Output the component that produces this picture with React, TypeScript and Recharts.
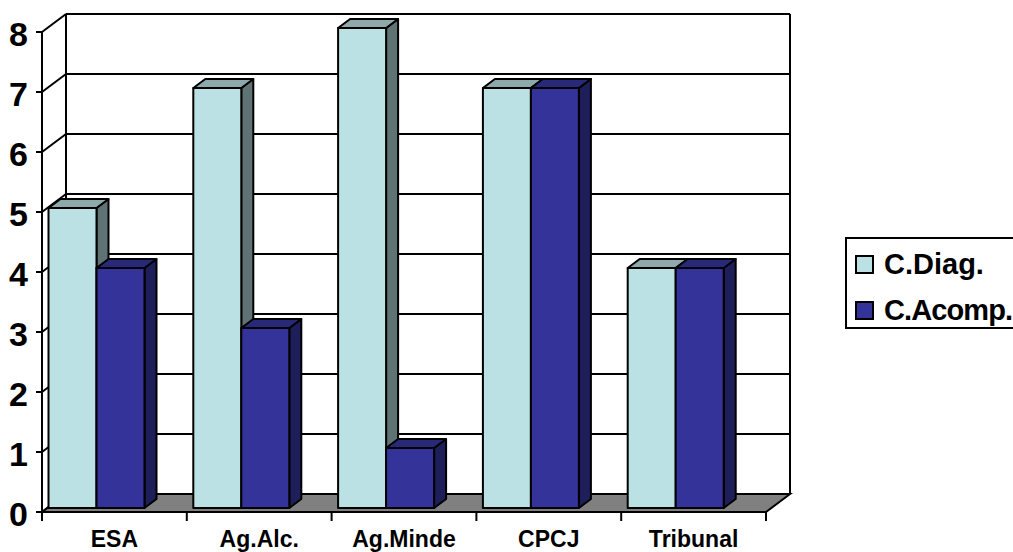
import { Bar, BarChart, CartesianGrid, Legend, XAxis, YAxis, usePlotArea } from 'recharts';

const categories = ['ESA', 'Ag.Alc.', 'Ag.Minde', 'CPCJ', 'Tribunal'];
const cDiag = [5, 7, 8, 7, 4];
const cAcomp = [4, 3, 1, 7, 4];
const yTicks = [0, 1, 2, 3, 4, 5, 6, 7, 8];

const data = categories.map((name, i) => ({ name, 'C.Diag.': cDiag[i], 'C.Acomp.': cAcomp[i] }));

const FONT = '"Liberation Sans", Arial, sans-serif';
const LINE = '#000';

// depth of the chart box
const WALL_DX = 24;
const WALL_DY = 18;
// depth of one bar, and where the bars sit inside the box
const BAR_DX = 12;
const BAR_DY = 9;
const BAR_SHIFT_X = -17.5;
const BAR_SHIFT_Y = -4;

const Wall = () => {
  const plot = usePlotArea();
  if (!plot) return null;
  const left = plot.x;
  const right = plot.x + plot.width;
  const top = plot.y;
  const bottom = plot.y + plot.height;
  return (
    <g>
      <polygon
        points={`${left},${bottom} ${left + WALL_DX},${bottom - WALL_DY} ${right + WALL_DX},${bottom - WALL_DY} ${right},${bottom}`}
        fill="#808080"
        stroke={LINE}
        strokeWidth={2}
      />
      <line x1={left + WALL_DX} x2={left + WALL_DX} y1={top - WALL_DY} y2={bottom - WALL_DY} stroke={LINE} strokeWidth={2} />
      <line x1={right + WALL_DX} x2={right + WALL_DX} y1={top - WALL_DY} y2={bottom - WALL_DY} stroke={LINE} strokeWidth={2} />
    </g>
  );
};

const GridLine = (props: any) => {
  const { x1, x2, y1 } = props;
  return (
    <g key={props.key}>
      <line x1={x1} y1={y1} x2={x1 + WALL_DX} y2={y1 - WALL_DY} stroke={LINE} strokeWidth={2} />
      <line x1={x1 + WALL_DX} y1={y1 - WALL_DY} x2={x2 + WALL_DX} y2={y1 - WALL_DY} stroke={LINE} strokeWidth={2} />
    </g>
  );
};

const box3d = (front: string, side: string, top: string) => (props: any) => {
  const x = props.x + BAR_SHIFT_X;
  const y = props.y + BAR_SHIFT_Y;
  const { width, height } = props;
  return (
    <g stroke={LINE} strokeWidth={2} strokeLinejoin="round">
      <polygon
        points={`${x + width},${y} ${x + width + BAR_DX},${y - BAR_DY} ${x + width + BAR_DX},${y + height - BAR_DY} ${x + width},${y + height}`}
        fill={side}
      />
      <polygon
        points={`${x},${y} ${x + BAR_DX},${y - BAR_DY} ${x + width + BAR_DX},${y - BAR_DY} ${x + width},${y}`}
        fill={top}
      />
      <rect x={x} y={y} width={width} height={height} fill={front} />
    </g>
  );
};

const CategoryTick = (props: any) => {
  const { x, y, payload, width, visibleTicksCount, index } = props;
  const band = width / visibleTicksCount;
  return (
    <g>
      <line x1={x - band / 2} x2={x - band / 2} y1={y - 8} y2={y + 1} stroke={LINE} strokeWidth={2} />
      {index === visibleTicksCount - 1 && (
        <line x1={x + band / 2} x2={x + band / 2} y1={y - 8} y2={y + 1} stroke={LINE} strokeWidth={2} />
      )}
      <text x={x} y={y + 27} textAnchor="middle" fontFamily={FONT} fontWeight="bold" fontSize={23} fill="#000">
        {payload.value}
      </text>
    </g>
  );
};

const YTick = (props: any) => {
  const { x, y, payload } = props;
  return (
    <text x={x} y={y + 14} textAnchor="end" fontFamily={FONT} fontWeight="bold" fontSize={34} fill="#000">
      {payload.value}
    </text>
  );
};

const legendItems = [
  { label: 'C.Diag.', color: '#BCE1E4', spacing: 0 },
  { label: 'C.Acomp.', color: '#333399', spacing: -0.9 },
];

const LegendBox = () => (
  <div
    style={{
      width: 180,
      height: 92,
      border: '2px solid #000',
      boxSizing: 'border-box',
      background: '#fff',
      fontFamily: FONT,
      fontWeight: 'bold',
      fontSize: 29,
      color: '#000',
      lineHeight: '46px',
      paddingTop: 2,
      whiteSpace: 'nowrap',
    }}
  >
    {legendItems.map((item) => (
      <div key={item.label} style={{ display: 'flex', alignItems: 'center', height: 46, letterSpacing: item.spacing }}>
        <span
          style={{
            display: 'inline-block',
            width: 19,
            height: 19,
            margin: '0 10px 0 8px',
            border: '2px solid #000',
            boxSizing: 'border-box',
            background: item.color,
          }}
        />
        {item.label}
      </div>
    ))}
  </div>
);

export default function App() {
  return (
    <div style={{ position: 'fixed', left: 0, top: 0, width: 1013, height: 552, overflow: 'hidden', background: '#fff' }}>
      <BarChart
        width={1013}
        height={552}
        data={data}
        margin={{ top: 32, right: 247, bottom: 0, left: 0 }}
        barCategoryGap={24.4}
        barGap={0}
      >
        <Wall />
        <CartesianGrid vertical={false} horizontal={GridLine} />
        <XAxis
          dataKey="name"
          height={40}
          tick={CategoryTick}
          tickLine={false}
          tickSize={0}
          tickMargin={8}
          interval={0}
          axisLine={{ stroke: LINE, strokeWidth: 2 }}
        />
        <YAxis
          width={42}
          domain={[0, 8]}
          ticks={yTicks}
          interval={0}
          tickSize={6}
          tickMargin={8}
          tickLine={{ stroke: LINE, strokeWidth: 2 }}
          axisLine={{ stroke: LINE, strokeWidth: 2 }}
          tick={YTick}
        />
        <Legend
          layout="horizontal"
          verticalAlign="middle"
          content={LegendBox}
          wrapperStyle={{ left: 845, top: 237, width: 180, height: 92 }}
        />
        <Bar dataKey="C.Diag." barSize={48} isAnimationActive={false} shape={box3d('#BCE1E4', '#5F7274', '#8EA9AB')} />
        <Bar dataKey="C.Acomp." barSize={48} isAnimationActive={false} shape={box3d('#333399', '#1E1E5A', '#29297A')} />
      </BarChart>
    </div>
  );
}
